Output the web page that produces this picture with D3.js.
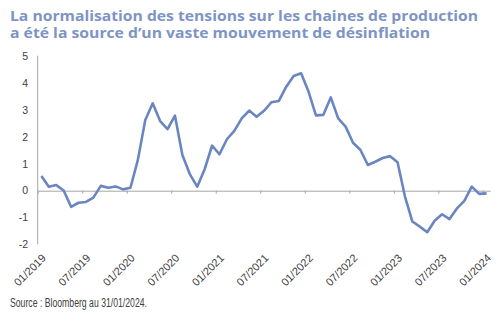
<!DOCTYPE html>
<html><head><meta charset="utf-8">
<script src="https://cdn.jsdelivr.net/npm/d3@7"></script>
<style>
html,body{margin:0;padding:0;background:#fff;}
svg{display:block;}
</style></head>
<body>
<svg id="c" width="500" height="321"></svg>
<script>
const titleLines = ["La normalisation des tensions sur les chaines de production",
                    "a été la source d\u2019un vaste mouvement de désinflation"];
const sourceText = "Source : Bloomberg au 31/01/2024.";
const months = [];
for (let y = 2019; y <= 2024; y++) for (let m = 1; m <= 12; m++) {
  if (y === 2024 && m > 1) break;
  months.push((m < 10 ? "0" + m : "" + m) + "/" + y);
}
const values = [0.55,0.15,0.21,0.01,-0.60,-0.45,-0.42,-0.26,0.18,0.11,0.16,0.05,
                0.11,1.15,2.64,3.26,2.60,2.30,2.80,1.33,0.62,0.15,0.80,1.68,
                1.36,1.92,2.23,2.70,2.99,2.76,2.98,3.30,3.35,3.88,4.28,4.38,
                3.70,2.81,2.83,3.48,2.70,2.39,1.79,1.52,0.96,1.08,1.22,1.29,
                1.06,-0.22,-1.15,-1.34,-1.55,-1.12,-0.88,-1.06,-0.66,-0.38,0.15,-0.12,
                -0.10];
const yTicks = [-2,-1,0,1,2,3,4,5];
const xLabelMonths = ["01/2019","07/2019","01/2020","07/2020","01/2021","07/2021","01/2022","07/2022","01/2023","07/2023","01/2024"];

const svg = d3.select("#c");
const x = d3.scaleBand().domain(months).range([37.7, 490.3]).padding(0);
const y = d3.scaleLinear().domain([-2,5]).range([244.3, 56.7]);

// title
const title = svg.append("g");
titleLines.forEach((t,i)=>{
  title.append("text").attr("x",10).attr("y",21 + i*17)
    .attr("font-family","'Open Sans', sans-serif").attr("font-weight","700")
    .attr("font-size","13.5px").attr("fill","#7d94c4")
    .attr("textLength", i===0 ? 468 : 420).attr("lengthAdjust","spacingAndGlyphs")
    .text(t);
});

// y axis line
svg.append("line").attr("x1",37.7).attr("x2",37.7).attr("y1",y(5)-1).attr("y2",y(-2))
  .attr("stroke","#a6a6a6").attr("stroke-width",1);

// y labels
svg.append("g").selectAll("text").data(yTicks).join("text")
  .attr("x",28).attr("y",d=>y(d)).attr("dy","0.35em").attr("text-anchor","end")
  .attr("font-family","'Liberation Sans', Arial, sans-serif").attr("font-size","10.5px").attr("fill","#404040")
  .text(d=>d);

// x axis at zero (ticks at band boundaries)
const xi = d3.scaleLinear().domain([0, months.length]).range(x.range());
const xAxis = d3.axisBottom(xi).tickValues(d3.range(0, months.length, 6)).tickSize(3).tickSizeOuter(0).tickFormat("");
const gx = svg.append("g").attr("transform",`translate(0,${y(0)})`).call(xAxis);
gx.select(".domain").attr("stroke","#a6a6a6");
gx.selectAll(".tick line").attr("stroke","#a6a6a6");

// x labels
svg.append("g").selectAll("text").data(xLabelMonths).join("text")
  .attr("transform",d=>`translate(${x(d)+x.bandwidth()/2+2.5},256) rotate(-45)`)
  .attr("text-anchor","end").attr("dy","0.35em")
  .attr("font-family","'Liberation Sans', Arial, sans-serif").attr("font-size","11px").attr("fill","#404040")
  .text(d=>d);

// line
const line = d3.line().x((d,i)=>x(months[i])+x.bandwidth()/2).y(d=>y(d));
svg.append("path").datum(values).attr("d",line).attr("fill","none")
  .attr("stroke","#6a86c0").attr("stroke-width",2.6).attr("stroke-linejoin","round");

// source
svg.append("text").attr("x",10).attr("y",307)
  .attr("font-family","'Liberation Sans Narrow','Liberation Sans', Arial, sans-serif").attr("font-size","12px").attr("fill","#404040")
  .attr("textLength",137).attr("lengthAdjust","spacingAndGlyphs")
  .text(sourceText);
</script>
</body></html>
